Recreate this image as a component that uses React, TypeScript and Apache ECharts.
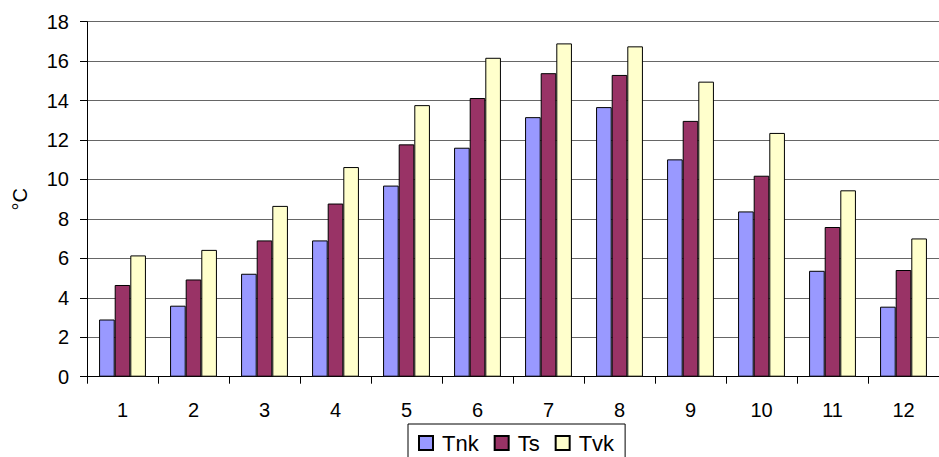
import React, { useEffect, useRef } from "react";
import * as echarts from "echarts";

const categories = ["1", "2", "3", "4", "5", "6", "7", "8", "9", "10", "11", "12"];
const tnk = [2.9, 3.6, 5.22, 6.91, 9.69, 11.61, 13.16, 13.67, 11.02, 8.38, 5.37, 3.55];
const ts = [4.65, 4.93, 6.91, 8.78, 11.78, 14.13, 15.39, 15.3, 12.97, 10.19, 7.59, 5.41];
const tvk = [6.15, 6.43, 8.66, 10.63, 13.77, 16.17, 16.9, 16.75, 14.96, 12.36, 9.45, 7.01];

const FONT = "'Liberation Sans', Arial, sans-serif";

export default function App() {
  const ref = useRef<HTMLDivElement>(null);
  useEffect(() => {
    if (!ref.current) return;
    const chart = echarts.init(ref.current, undefined, { renderer: "svg" });
    const barStyle = (color: string) => ({
      color,
      borderColor: "#000",
      borderWidth: 1,
    });
    chart.setOption({
      animation: false,
      backgroundColor: "#fff",
      textStyle: { fontFamily: FONT, color: "#000" },
      grid: { left: 87, top: 21.7, width: 860, height: 355 },
      legend: {
        left: 408,
        top: 424,
        padding: [7, 11, 10, 10],
        borderColor: "#000",
        borderWidth: 1,
        itemWidth: 14,
        itemHeight: 14,
        itemGap: 15,
        icon: "rect",
        textStyle: { fontFamily: FONT, fontSize: 22, lineHeight: 24, color: "#000", padding: [0, 0, 0, 4] },
        data: ["Tnk", "Ts", "Tvk"],
      },
      xAxis: {
        type: "category",
        data: categories,
        boundaryGap: true,
        axisLine: { lineStyle: { color: "#000", width: 1 } },
        axisTick: { show: true, length: 7, lineStyle: { color: "#000" } },
        axisLabel: { fontFamily: FONT, fontSize: 20, color: "#000", margin: 23 },
        splitLine: { show: false },
      },
      yAxis: {
        type: "value",
        min: 0,
        max: 18,
        interval: 2,
        name: "°C",
        nameLocation: "middle",
        nameGap: 57,
        nameTextStyle: { fontFamily: FONT, fontSize: 20, color: "#000" },
        axisLine: { show: true, lineStyle: { color: "#000", width: 1 } },
        axisTick: { show: true, length: 7, lineStyle: { color: "#000" } },
        axisLabel: { fontFamily: FONT, fontSize: 20, color: "#000", margin: 18 },
        splitLine: { show: true, lineStyle: { color: "#666", width: 1 } },
      },
      series: [
        { name: "Tnk", type: "bar", data: tnk, itemStyle: barStyle("#9999FF"), barGap: "0%", barCategoryGap: "34%" },
        { name: "Ts", type: "bar", data: ts, itemStyle: barStyle("#993366"), barGap: "0%", barCategoryGap: "34%" },
        { name: "Tvk", type: "bar", data: tvk, itemStyle: barStyle("#FFFFCC"), barGap: "0%", barCategoryGap: "34%" },
      ],
    });
    return () => chart.dispose();
  }, []);
  return (
    <div
      ref={ref}
      style={{ position: "fixed", left: 0, top: 0, width: 939, height: 457 }}
    />
  );
}
